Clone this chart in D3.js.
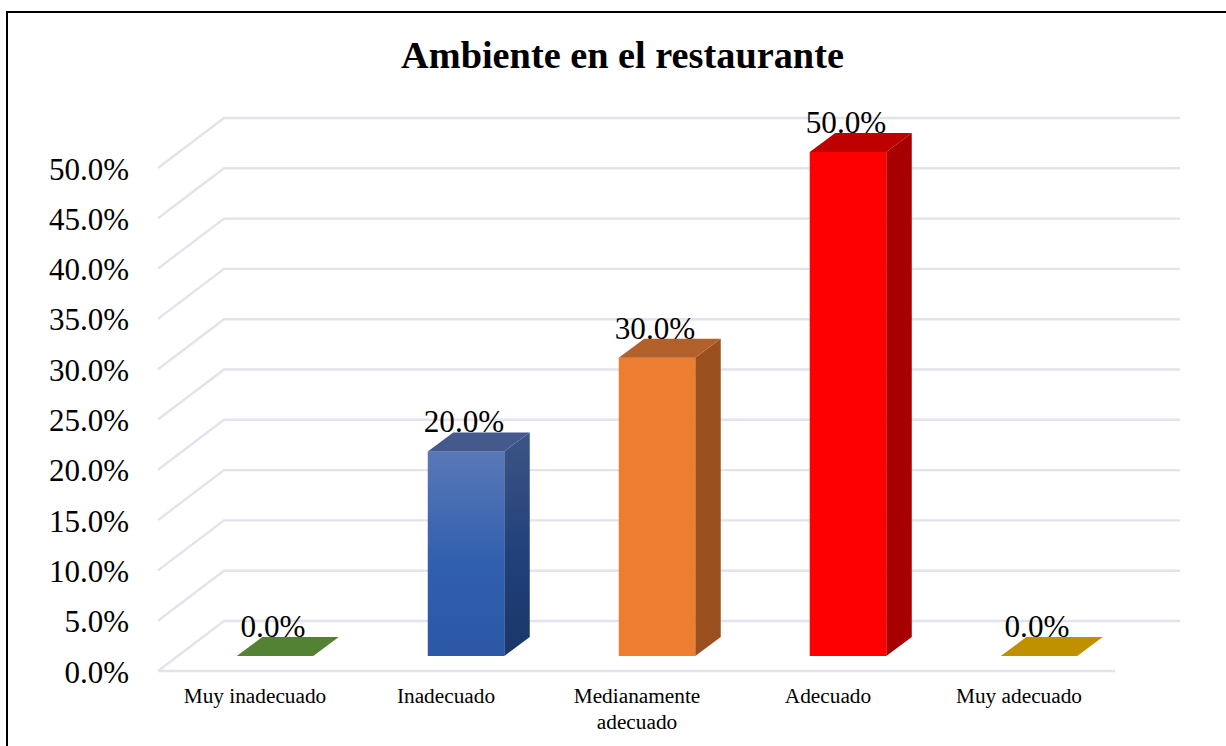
<!DOCTYPE html>
<html><head><meta charset="utf-8">
<script src="https://cdn.jsdelivr.net/npm/d3@7"></script>
<style>html,body{margin:0;padding:0;background:#fff}svg{display:block}text{font-family:"Liberation Serif",serif;fill:#000}</style>
</head><body><svg id="c" width="1226" height="746"></svg>
<script>
const titleText = "Ambiente en el restaurante";
const categories = ["Muy inadecuado","Inadecuado","Medianamente adecuado","Adecuado","Muy adecuado"];
const categoryLines = [["Muy inadecuado"],["Inadecuado"],["Medianamente","adecuado"],["Adecuado"],["Muy adecuado"]];
const labelValues = [0,20,30,50,0];
const barHeights = [0,20.3,29.6,50,0];
const frontColors = ["#548235","#2f5597","#ed7d31","#ff0000","#bf9000"];
const topColors = ["#548235","#44598c","#b3612a","#bf0000","#bf9000"];
const sideColors = ["#3e6128","#1f3a6e","#9a4f1e","#a60000","#8f6c00"];
const ticks = d3.range(0,51,5);

const W=1226,H=746;
const svg=d3.select("#c");
const defs=svg.append("defs");
const g1=defs.append("linearGradient").attr("id","blueFront").attr("x1",0).attr("y1",0).attr("x2",0).attr("y2",1);
[[0,"#5a78b8"],[0.55,"#305fae"],[1,"#2c58a6"]].forEach(d=>g1.append("stop").attr("offset",d[0]).attr("stop-color",d[1]));
const g2=defs.append("linearGradient").attr("id","blueSide").attr("x1",0).attr("y1",0).attr("x2",0).attr("y2",1);
[[0,"#3d5585"],[0.55,"#21407a"],[1,"#1b3769"]].forEach(d=>g2.append("stop").attr("offset",d[0]).attr("stop-color",d[1]));

svg.append("rect").attr("x",7).attr("y",12).attr("width",W).attr("height",H).attr("fill","#fff").attr("stroke","#000").attr("stroke-width",2);

svg.append("text").attr("x",622.5).attr("y",68).attr("text-anchor","middle").attr("font-size",38.3).attr("font-weight","bold").text(titleText);

const yFront=d3.scaleLinear().domain([0,50]).range([671,168]);
const depthX=66,depthY=50;
const gridColor="#e2e3ec";
const grid=svg.append("g").attr("fill","none").attr("stroke",gridColor).attr("stroke-width",2.4);
ticks.forEach(t=>{
  const y=yFront(t);
  const p=d3.path();p.moveTo(158,y);p.lineTo(158+depthX,y-depthY);p.lineTo(1180,y-depthY);
  grid.append("path").attr("d",p.toString());
});
grid.append("line").attr("x1",158).attr("x2",1115).attr("y1",yFront(0)).attr("y2",yFront(0));

svg.append("g").selectAll("text").data(ticks).join("text")
 .attr("x",129).attr("y",t=>yFront(t)+11.5).attr("text-anchor","end").attr("font-size",31)
 .text(t=>t.toFixed(1)+"%");

const x=d3.scaleBand().domain(categories).range([179.5,1134.5]);
const barW=76.5,dx=25.5,dy=19;
const yBar=d3.scaleLinear().domain([0,50]).range([656,152]);
const bars=svg.append("g");
categories.forEach((c,i)=>{
  const cx=x(c)+x.bandwidth()/2, x0=cx-barW/2, x1=cx+barW/2, y0=yBar(0), yt=yBar(barHeights[i]);
  const poly=pts=>pts.map(p=>p.join(",")).join(" ");
  if(barHeights[i]>0){
    bars.append("polygon").attr("points",poly([[x1,y0],[x1+dx,y0-dy],[x1+dx,yt-dy],[x1,yt]])).attr("fill",i==1?"url(#blueSide)":sideColors[i]);
    bars.append("rect").attr("x",x0).attr("y",yt).attr("width",barW).attr("height",y0-yt).attr("fill",i==1?"url(#blueFront)":frontColors[i]);
  }
  bars.append("polygon").attr("points",poly([[x0,yt],[x0+dx,yt-dy],[x1+dx,yt-dy],[x1,yt]])).attr("fill",topColors[i]);
  svg.append("text").attr("x",cx-2).attr("y",yt-19).attr("text-anchor","middle").attr("font-size",31.2).text(labelValues[i].toFixed(1)+"%");
  const t=svg.append("text").attr("text-anchor","middle").attr("font-size",21.3);
  categoryLines[i].forEach((l,k)=>t.append("tspan").attr("x",cx-20).attr("y",703+k*25.5).text(l));
});
</script></body></html>
